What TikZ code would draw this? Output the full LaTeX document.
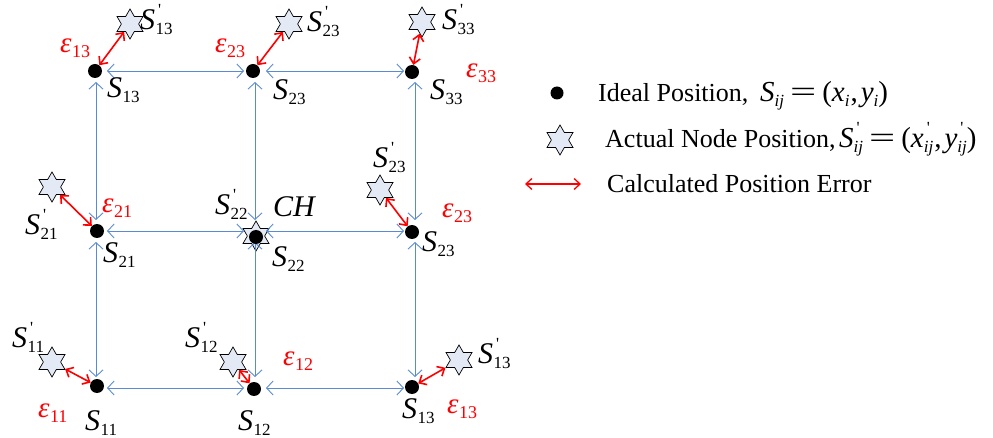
\documentclass[tikz,border=0pt]{standalone}
\usepackage{fontspec}
\setmainfont{Liberation Serif}
\usepackage{graphicx}
\usetikzlibrary{arrows.meta,shapes.geometric}
\definecolor{gridblue}{RGB}{90,138,210}
\definecolor{errred}{RGB}{255,0,0}
\definecolor{starfill}{RGB}{228,234,245}
\newcommand\subsz{\fontsize{17}{17}\selectfont}
\newcommand\Sn[1]{\textit{S}\kern0.5pt\raisebox{-5pt}{\subsz #1}}
\newcommand\Sp[1]{\textit{S}\kern0.5pt\rlap{\raisebox{14pt}{\subsz\kern2.5pt\textquotesingle}}\raisebox{-5pt}{\subsz #1}}
\newcommand\Eps[1]{\textcolor{errred}{\textit{ε}\kern0.5pt\raisebox{-5pt}{\fontsize{18}{18}\selectfont #1}}}
\newcommand\Eq{\kern6pt\scalebox{1.6}[1]{=}\kern6pt}
\newcommand\Prm[1]{\rlap{\raisebox{14pt}{\subsz\kern#1\textquotesingle}}}
\begin{document}
\begin{tikzpicture}[x=1pt,y=-1pt,
  lab/.style={font=\fontsize{30}{32}\selectfont, anchor=base west, inner sep=0pt},
  elab/.style={font=\fontsize{29}{32}\selectfont, anchor=base west, inner sep=0pt},
  ltext/.style={font=\fontsize{26}{28}\selectfont, anchor=base west, inner sep=0pt},
  dot/.style={circle, fill=black, minimum size=14pt, inner sep=0pt},
  hexstar/.style={star, star points=6, star point ratio=1.732, minimum size=30pt, inner sep=0pt, draw=black, line width=0.7pt, fill=starfill},
  link/.style={gridblue, line width=0.9pt, {Straight Barb[length=6.5pt,width=14pt]}-{Straight Barb[length=6.5pt,width=14pt]}, shorten <=11pt, shorten >=11pt},
  err/.style={errred, line width=1.6pt, {Straight Barb[length=6pt,width=11pt]}-{Straight Barb[length=6pt,width=11pt]}}
]
\useasboundingbox (0,0) rectangle (993,438);
% grid line coordinates (column, row: 1 top, 2 middle, 3 bottom)
\coordinate (g11) at (96,71);
\coordinate (g21) at (255,71);
\coordinate (g31) at (415,71);
\coordinate (g12) at (96,231);
\coordinate (g22) at (255,231);
\coordinate (g32) at (415,231);
\coordinate (g13) at (96,388);
\coordinate (g23) at (255,388);
\coordinate (g33) at (415,388);
% stars
\node[hexstar] (st13) at (130,24) {};
\node[hexstar] (st23) at (289,24) {};
\node[hexstar] (st33) at (422,22) {};
\node[hexstar] (str23) at (380,190) {};
\node[hexstar] (st21) at (52,187) {};
\node[hexstar] (st22) at (256,236) {};
\node[hexstar] (st11) at (52,362) {};
\node[hexstar] (st12) at (233,362) {};
\node[hexstar] (stb13) at (459,360) {};
% blue links
\draw[link] (g11) -- (g21);
\draw[link] (g21) -- (g31);
\draw[link] (g12) -- (g22);
\draw[link] (g22) -- (g32);
\draw[link] (g13) -- (g23);
\draw[link] (g23) -- (g33);
\draw[link] (g11) -- (g12);
\draw[link] (g12) -- (g13);
\draw[link] (g21) -- (g22);
\draw[link] (g22) -- (g23);
\draw[link] (g31) -- (g32);
\draw[link] (g32) -- (g33);
% dots
\node[dot] (d13) at (95,71) {};
\node[dot] (d23) at (253,71) {};
\node[dot] (d33) at (412,72) {};
\node[dot] (d21) at (97,231) {};
\node[dot] (d22) at (256,237) {};
\node[dot] (dr23) at (412,232) {};
\node[dot] (d11) at (97,386) {};
\node[dot] (d12) at (254,389) {};
\node[dot] (db13) at (412,387) {};
% red error arrows
\draw[err] (st13) -- (d13);
\draw[err] (st23) -- (d23);
\draw[err] (st33) -- (d33);
\draw[err] (str23) -- (dr23);
\draw[err] (st21) -- (d21);
\draw[err] (st11) -- (d11);
\draw[err] (st12) -- (d12);
\draw[err] (stb13) -- (db13);
% ideal position labels
\node[lab] (l13) at (107,98) {\Sn{13}};
\node[lab] (l23) at (273,100) {\Sn{23}};
\node[lab] (l33) at (430,100) {\Sn{33}};
\node[lab] (l21) at (103,263) {\Sn{21}};
\node[lab] (l22) at (272,267) {\Sn{22}};
\node[lab] (lr23) at (422,252) {\Sn{23}};
\node[lab] (l11) at (85,430) {\Sn{11}};
\node[lab] (l12) at (238,430) {\Sn{12}};
\node[lab] (lb13) at (402,418) {\Sn{13}};
% actual position labels
\node[lab] (p13) at (140,30) {\Sp{13}};
\node[lab] (p23) at (307,32) {\Sp{23}};
\node[lab] (p33) at (442,30) {\Sp{33}};
\node[lab] (pr23) at (373,168) {\Sp{23}};
\node[lab] (p21) at (25,235) {\Sp{21}};
\node[lab] (p22) at (215,215) {\Sp{22}};
\node[lab] (p11) at (12,347) {\Sp{11}};
\node[lab] (p12) at (185,347) {\Sp{12}};
\node[lab] (pb13) at (478,363) {\Sp{13}};
\node[lab] (ch) at (273,217) {\textit{CH}};
% error labels
\node[elab] (e13) at (60,53) {\Eps{13}};
\node[elab] (e23) at (215,53) {\Eps{23}};
\node[elab] (e33) at (466,78) {\Eps{33}};
\node[elab] (er23) at (442,218) {\Eps{23}};
\node[elab] (e21) at (102,213) {\Eps{21}};
\node[elab] (e11) at (38,417) {\Eps{11}};
\node[elab] (e12) at (283,365) {\Eps{12}};
\node[elab] (eb13) at (447,413) {\Eps{13}};
% legend
\node[dot, minimum size=13pt] (kdot) at (557,93) {};
\node[ltext] (ktext1) at (598,102) {Ideal Position,};
\node[lab, font=\fontsize{29}{32}\selectfont] (kf1) at (760,102)
  {\textit{S}\raisebox{-5pt}{\subsz\textit{ij}}\Eq(\textit{x}\raisebox{-5pt}{\subsz\textit{i}}\kern1pt,\kern3pt\textit{y}\raisebox{-5pt}{\subsz\textit{i}})};
\node[hexstar] (kstar) at (560,140) {};
\node[ltext] (ktext2) at (605,148) {Actual Node Position,};
\node[lab, font=\fontsize{29}{32}\selectfont] (kf2) at (839,148)
  {\textit{S}\Prm{3pt}\raisebox{-5pt}{\subsz\textit{ij}}\Eq(\textit{x}\Prm{3pt}\raisebox{-5pt}{\subsz\textit{ij}}\kern1pt,\kern3pt\textit{y}\Prm{3pt}\raisebox{-5pt}{\subsz\textit{ij}})};
\coordinate (ka) at (525,184);
\coordinate (kb) at (581,184);
\draw[err, line width=1.3pt] (ka) -- (kb);
\node[ltext] (ktext3) at (607,193) {Calculated Position Error};
\end{tikzpicture}
\end{document}
